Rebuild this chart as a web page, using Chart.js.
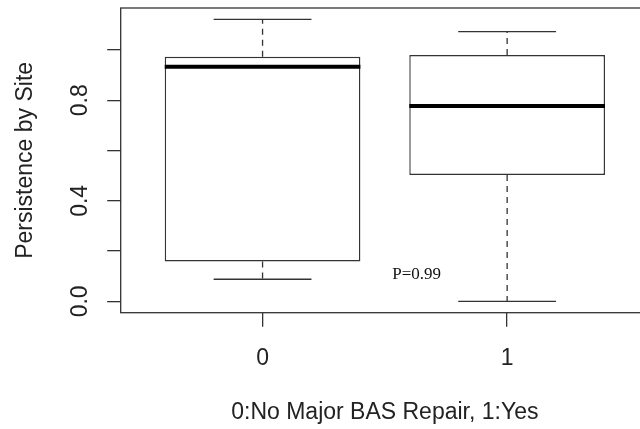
<!DOCTYPE html>
<html>
<head>
<meta charset="utf-8">
<script src="https://cdn.jsdelivr.net/npm/chart.js@4"></script>
<style>
  html, body { margin: 0; padding: 0; background: #fff; overflow: hidden; }
  #chart { display: block; }
</style>
</head>
<body>
<canvas id="chart" width="660" height="429"></canvas>
<script>
// box plot summary per group
const groups = ["0", "1"];
const groupPos = [1, 2];
const whiskerLow = [0.088, 0.0];
const q1 = [0.159, 0.503];
const median = [0.933, 0.777];
const q3 = [0.973, 0.980];
const whiskerHigh = [1.122, 1.073];

const yTicks = [0, 0.2, 0.4, 0.6, 0.8, 1.0];
const yTickLabels = ["0.0", "", "0.4", "", "0.8", ""];

const pLabel = "P=0.99";
const pLabelPos = [1.63, 0.107];

const lineColor = "#333";
const sans = "'Liberation Sans', Arial, sans-serif";

// whiskers, caps, medians, frame and the p-value note
const boxExtras = {
    id: "boxExtras",
    afterDatasetsDraw(chart) {
        const { ctx, chartArea, scales: { x, y } } = chart;
        const meta = chart.getDatasetMeta(0);
        ctx.save();
        groupPos.forEach((pos, i) => {
            const cx = x.getPixelForValue(pos);
            const half = meta.data[i].width / 2;
            const capHalf = x.getPixelForValue(pos + 0.2) - cx;

            ctx.strokeStyle = lineColor;
            ctx.lineWidth = 1.3;
            ctx.setLineDash([6, 5]);
            ctx.beginPath();
            ctx.moveTo(cx, y.getPixelForValue(q3[i]));
            ctx.lineTo(cx, y.getPixelForValue(whiskerHigh[i]));
            ctx.moveTo(cx, y.getPixelForValue(q1[i]));
            ctx.lineTo(cx, y.getPixelForValue(whiskerLow[i]));
            ctx.stroke();
            ctx.setLineDash([]);

            ctx.beginPath();
            [whiskerHigh[i], whiskerLow[i]].forEach(v => {
                const py = y.getPixelForValue(v);
                ctx.moveTo(cx - capHalf, py);
                ctx.lineTo(cx + capHalf, py);
            });
            ctx.stroke();

            ctx.strokeStyle = "#000";
            ctx.lineWidth = 4;
            ctx.beginPath();
            const my = y.getPixelForValue(median[i]);
            ctx.moveTo(cx - half, my);
            ctx.lineTo(cx + half, my);
            ctx.stroke();
        });

        ctx.strokeStyle = lineColor;
        ctx.lineWidth = 1.3;
        ctx.strokeRect(chartArea.left, chartArea.top, chartArea.width, chartArea.height);

        ctx.fillStyle = "#111";
        ctx.font = "17px 'Liberation Serif', 'Times New Roman', serif";
        ctx.textAlign = "center";
        ctx.textBaseline = "middle";
        ctx.fillText(pLabel, x.getPixelForValue(pLabelPos[0]), y.getPixelForValue(pLabelPos[1]));
        ctx.restore();
    }
};

new Chart(document.getElementById("chart"), {
    type: "bar",
    data: {
        datasets: [{
            data: groupPos.map((p, i) => ({ x: p, y: [q1[i], q3[i]] })),
            backgroundColor: "#fff",
            borderColor: lineColor,
            borderWidth: 1.4,
            borderSkipped: false,
            barPercentage: 0.8,
            categoryPercentage: 1.0
        }]
    },
    options: {
        responsive: false,
        animation: false,
        layout: { padding: { top: 8, right: 11, bottom: 0, left: 0 } },
        plugins: {
            legend: { display: false },
            tooltip: { enabled: false }
        },
        scales: {
            x: {
                type: "linear",
                min: 0.42,
                max: 2.58,
                offset: false,
                afterBuildTicks: s => { s.ticks = groupPos.map(v => ({ value: v })); },
                afterFit: s => {
                    s.height = 116.3;
                    s.paddingLeft = 0;
                    s.paddingRight = 0;
                },
                border: { display: false },
                grid: {
                    offset: false,
                    drawOnChartArea: false,
                    drawTicks: true,
                    tickLength: 14,
                    color: lineColor,
                    lineWidth: 1.3
                },
                ticks: {
                    autoSkip: false,
                    maxRotation: 0,
                    padding: 18,
                    color: "#222",
                    font: { family: sans, size: 23 },
                    callback: v => groups[groupPos.indexOf(v)] ?? ""
                },
                title: {
                    display: true,
                    text: "0:No Major BAS Repair, 1:Yes",
                    color: "#222",
                    font: { family: sans, size: 23 },
                    padding: { top: 0, bottom: 3 }
                }
            },
            y: {
                min: -0.045,
                max: 1.167,
                afterBuildTicks: s => { s.ticks = yTicks.map(v => ({ value: v })); },
                afterFit: s => {
                    s.width = 120.7;
                    s.paddingTop = 0;
                    s.paddingBottom = 0;
                },
                border: { display: false },
                grid: {
                    drawOnChartArea: false,
                    drawTicks: true,
                    tickLength: 13.5,
                    color: lineColor,
                    lineWidth: 1.3
                },
                ticks: {
                    minRotation: 90,
                    maxRotation: 90,
                    crossAlign: "center",
                    padding: 11,
                    color: "#222",
                    font: { family: sans, size: 23 },
                    callback: (v, i) => yTickLabels[i]
                },
                title: {
                    display: true,
                    text: "Persistence by Site",
                    color: "#222",
                    font: { family: sans, size: 23 },
                    padding: { top: 12, bottom: 0 }
                }
            }
        }
    },
    plugins: [boxExtras]
});
</script>
</body>
</html>
